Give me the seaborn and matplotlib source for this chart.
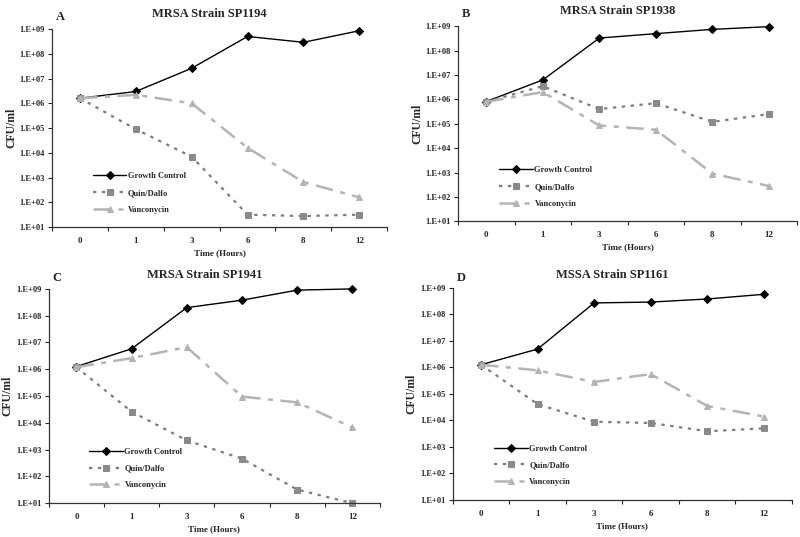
import numpy as np
import pandas as pd
import matplotlib
matplotlib.use("Agg")
import matplotlib.pyplot as plt
import seaborn as sns
from matplotlib.ticker import FixedLocator, FuncFormatter

sns.set_style("white")
plt.rcParams['font.family'] = ['Liberation Serif', 'DejaVu Serif']
plt.rcParams['font.weight'] = 'bold'

times = ["0", "1", "3", "6", "8", "12"]
series_names = ["Growth Control", "Quin/Dalfo", "Vanconycin"]

titles = ["MRSA Strain SP1194", "MRSA Strain SP1938", "MRSA Strain SP1941", "MSSA Strain SP1161"]
letters = ["A", "B", "C", "D"]

a_growth = [1.6e6, 3.0e6, 2.6e7, 5.0e8, 2.9e8, 8.5e8]
a_quin = [1.6e6, 9.0e4, 7.0e3, 32, 28, 32]
a_vanco = [1.6e6, 2.2e6, 1.0e6, 1.6e4, 6.6e2, 1.6e2]

b_growth = [8.2e5, 6.3e6, 3.3e8, 5.0e8, 7.5e8, 9.7e8]
b_quin = [8.0e5, 3.5e6, 4.0e5, 7.0e5, 1.2e5, 2.5e5]
b_vanco = [8.0e5, 2.0e6, 8.5e4, 5.7e4, 9.0e2, 2.8e2]

c_growth = [1.26e6, 5.8e6, 2.0e8, 3.8e8, 9.0e8, 1.0e9]
c_quin = [1.2e6, 2.6e4, 2.2e3, 4.6e2, 32, 10]
c_vanco = [1.2e6, 2.6e6, 6.7e6, 9.5e4, 5.8e4, 6.7e3]

d_growth = [1.26e6, 4.9e6, 2.7e8, 2.9e8, 3.8e8, 5.7e8]
d_quin = [1.26e6, 4.1e4, 8.9e3, 8.0e3, 3.9e3, 5.0e3]
d_vanco = [1.26e6, 7.7e5, 2.8e5, 5.6e5, 3.5e4, 1.4e4]

panels = [
    (a_growth, a_quin, a_vanco),
    (b_growth, b_quin, b_vanco),
    (c_growth, c_quin, c_vanco),
    (d_growth, d_quin, d_vanco),
]

rects = [
    [0.065, 0.577, 0.419, 0.369],
    [0.5725, 0.588, 0.424, 0.363],
    [0.061, 0.063, 0.414, 0.399],
    [0.566, 0.069, 0.424, 0.395],
]
title_y = [14, 11, 275, 275]  # px from top

styles = [
    dict(color="black", marker="D", markersize=4.2, linewidth=1.0, linestyle="-",
         markerfacecolor="black", markeredgecolor="black"),
    dict(color="#7d7d7d", marker="s", markersize=4.2, linewidth=1.6, linestyle=(0, (1.5, 2.5)),
         markerfacecolor="#8a8a8a", markeredgecolor="#8a8a8a"),
    dict(color="#b4b4b4", marker="^", markersize=5, linewidth=1.8, linestyle=(0, (7, 3, 2, 3)),
         markerfacecolor="#b4b4b4", markeredgecolor="#b4b4b4"),
]

fig = plt.figure(figsize=(8.0, 5.37), dpi=100)

def fmt(v, pos):
    e = int(round(np.log10(v)))
    return "1.E+%02d" % e

for i, (vals, rect) in enumerate(zip(panels, rects)):
    ax = fig.add_axes(rect)
    rows = []
    for name, ser in zip(series_names, vals):
        for t, v in zip(times, ser):
            rows.append(dict(time=t, cfu=v, series=name))
    df = pd.DataFrame(rows)
    df["pos"] = df["time"].map({t: k for k, t in enumerate(times)})
    for name, st in zip(series_names, styles):
        sub = df[df["series"] == name]
        sns.lineplot(data=sub, x="pos", y="cfu", ax=ax, label=name, clip_on=False, **st)
    ax.set_yscale("log")
    ax.set_ylim(10, 1e9)
    ax.set_xlim(-0.5, 5.5)
    ax.yaxis.set_major_locator(FixedLocator([10.0 ** k for k in range(1, 10)]))
    ax.yaxis.set_minor_locator(FixedLocator([]))
    ax.yaxis.set_major_formatter(FuncFormatter(fmt))
    ax.set_xticks(range(len(times)))
    ax.set_xticklabels(times)
    ax.xaxis.set_minor_locator(FixedLocator([k + 0.5 for k in range(-1, len(times))]))
    ax.tick_params(axis="x", which="major", length=0, pad=7, labelsize=6.5)
    ax.tick_params(axis="x", which="minor", length=3, width=0.8, direction="out", bottom=True)
    ax.tick_params(axis="y", which="major", length=3, width=0.8, direction="out", left=True,
                   labelsize=6, pad=2)
    for lab in ax.get_xticklabels() + ax.get_yticklabels():
        lab.set_fontweight("bold")
    for s in ["top", "right"]:
        ax.spines[s].set_visible(False)
    for s in ["left", "bottom"]:
        ax.spines[s].set_color("#333333")
        ax.spines[s].set_linewidth(0.9)
    ax.set_xlabel("Time (Hours)", fontsize=6.5, fontweight="bold", labelpad=3)
    ax.set_ylabel("CFU/ml", fontsize=8.5, fontweight="bold", labelpad=2)
    ax.legend(loc="lower left", bbox_to_anchor=(0.10, 0.03), frameon=False,
              prop=dict(size=6, weight="bold"), handlelength=4.0, handletextpad=0.2,
              labelspacing=1.05)
    l, b, w, h = rect
    fig.text(l + w * 0.47, 1 - title_y[i] / 537, titles[i], ha="center", va="center",
             fontsize=9, fontweight="bold")
    fig.text(l + 0.010, 1 - (title_y[i] + 3) / 537, letters[i], ha="center", va="center",
             fontsize=9, fontweight="bold")

fig.savefig("out.png", dpi=100, facecolor="white")
